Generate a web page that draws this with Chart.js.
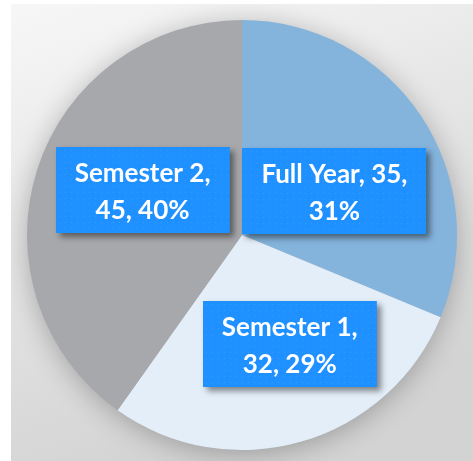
<!DOCTYPE html>
<html><head><meta charset="utf-8">
<script src="https://cdn.jsdelivr.net/npm/chart.js@4/dist/chart.umd.min.js"></script>
<style>
html,body{margin:0;padding:0;background:#fff;overflow:hidden;}
#wrap{position:absolute;left:11px;top:4px;width:462px;height:457px;}
</style></head>
<body><div id="wrap"><canvas id="c"></canvas></div>
<script>
const categories = ['Full Year', 'Semester 1', 'Semester 2'];
const counts = [35, 32, 45];
const percents = ['31%', '29%', '40%'];
// number of comma-separated parts on the first label line
const firstLineParts = [2, 1, 1];

const sliceColors = ['#84b3dc', '#e3eef8', '#a7a8ac'];
// label nudges (px) from the slice mid-angle point at half radius
const labelNudge = [[3, 16], [18, 6], [3, -12]];

function labelLines(i) {
  const parts = [categories[i], String(counts[i]), percents[i]];
  const n = firstLineParts[i];
  return [parts.slice(0, n).join(', ') + ',', parts.slice(n).join(', ')];
}

const bgPlugin = {
  id: 'bg',
  beforeDraw(chart) {
    const {ctx, width, height} = chart;
    ctx.save();
    const g = ctx.createLinearGradient(0, 0, width * 0.35, height);
    g.addColorStop(0, '#f7f7f7');
    g.addColorStop(1, '#d3d3d3');
    ctx.fillStyle = g;
    ctx.fillRect(0, 0, width, height);
    ctx.restore();
  },
  beforeDatasetsDraw(chart) {
    const arc = chart.getDatasetMeta(0).data[0];
    const {ctx} = chart;
    ctx.save();
    ctx.shadowColor = 'rgba(0,0,0,0.28)';
    ctx.shadowBlur = 28;
    ctx.shadowOffsetX = 0;
    ctx.shadowOffsetY = 4;
    ctx.fillStyle = '#a7a8ac';
    ctx.beginPath();
    ctx.arc(arc.x, arc.y, arc.outerRadius - 1, 0, Math.PI * 2);
    ctx.fill();
    ctx.restore();
  }
};

const labelPlugin = {
  id: 'boxLabels',
  afterDatasetsDraw(chart) {
    const {ctx} = chart;
    const meta = chart.getDatasetMeta(0);
    ctx.save();
    ctx.font = 'bold 26px Lato, "Liberation Sans", sans-serif';
    meta.data.forEach((arc, i) => {
      const mid = (arc.startAngle + arc.endAngle) / 2;
      const r = arc.outerRadius * 0.5;
      const cx = arc.x + Math.cos(mid) * r + labelNudge[i][0];
      const cy = arc.y + Math.sin(mid) * r + labelNudge[i][1];
      const lines = labelLines(i);
      const w = Math.max(...lines.map(l => ctx.measureText(l).width)) + 38;
      const h = 86;
      const x0 = Math.round(cx - w / 2), y0 = Math.round(cy - h / 2);
      ctx.save();
      ctx.shadowColor = 'rgba(0,0,0,0.45)';
      ctx.shadowBlur = 6;
      ctx.shadowOffsetX = 4;
      ctx.shadowOffsetY = 4;
      ctx.fillStyle = '#1e90ff';
      ctx.fillRect(x0, y0, w, h);
      ctx.restore();
      // subtle dot pattern
      ctx.fillStyle = 'rgba(255,255,255,0.10)';
      for (let yy = y0 + 3; yy < y0 + h; yy += 6) {
        for (let xx = x0 + 3; xx < x0 + w; xx += 6) ctx.fillRect(xx, yy, 1, 1);
      }
      ctx.fillStyle = '#ffffff';
      ctx.textAlign = 'center';
      ctx.textBaseline = 'middle';
      ctx.fillText(lines[0], cx, cy - 17);
      ctx.fillText(lines[1], cx, cy + 20);
    });
    ctx.restore();
  }
};

new Chart(document.getElementById('c'), {
  type: 'pie',
  data: {
    labels: categories,
    datasets: [{
      data: counts,
      backgroundColor: sliceColors,
      borderWidth: 0
    }]
  },
  options: {
    responsive: true,
    maintainAspectRatio: false,
    animation: false,
    layout: {padding: {left: 16, right: 16, top: 16, bottom: 11}},
    plugins: {legend: {display: false}, tooltip: {enabled: false}}
  },
  plugins: [bgPlugin, labelPlugin]
});
</script>
</body></html>
